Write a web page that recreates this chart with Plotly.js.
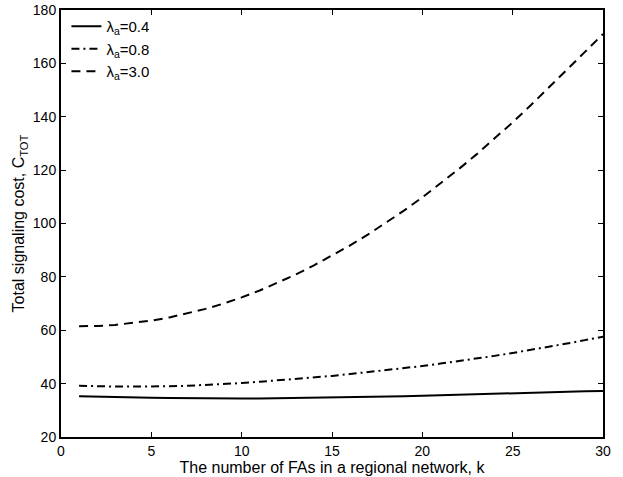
<!DOCTYPE html>
<html>
<head>
<meta charset="utf-8">
<script src="https://cdn.plot.ly/plotly-3.0.1.min.js"></script>
<style>html,body{margin:0;padding:0;background:#fff;}#chart{width:623px;height:477px;}</style>
</head>
<body>
<div id="chart"></div>
<script>
const k = [1,2,3,4,5,6,7,8,9,10,11,12,13,14,15,16,17,18,19,20,21,22,23,24,25,26,27,28,29,30];
const cost_04 = [35.3,35.1,34.9,34.8,34.7,34.6,34.5,34.5,34.4,34.4,34.4,34.5,34.5,34.6,34.7,34.8,34.9,35.1,35.3,35.5,35.7,35.9,36.1,36.3,36.5,36.7,36.8,37.0,37.1,37.2];
const cost_08 = [39.2,39.0,38.9,38.9,38.9,39.0,39.2,39.5,39.8,40.2,40.7,41.2,41.7,42.3,42.9,43.6,44.3,45.0,45.8,46.6,47.5,48.4,49.4,50.4,51.5,52.6,53.8,55.0,56.3,57.6];
const cost_30 = [61.5,61.6,62.0,62.7,63.6,64.8,66.3,68.0,70.0,72.3,74.9,77.8,80.9,84.3,87.9,91.8,95.9,100.3,104.9,109.8,114.9,120.3,125.9,131.8,137.9,144.3,150.8,157.6,164.3,171.0];
const seriesNames = ['λ<sub>a</sub>=0.4','λ<sub>a</sub>=0.8','λ<sub>a</sub>=3.0'];
const xTicks = [0,5,10,15,20,25,30];
const yTicks = [20,40,60,80,100,120,140,160,180];

const fam = 'Liberation Sans, Arial, sans-serif';
const tickFont = {family: fam, size: 14, color: '#000'};
const titleFont = {family: fam, size: 16, color: '#000'};
const legendFont = {family: fam, size: 15, color: '#000'};
const traces = [
  {x: k, y: cost_04, name: seriesNames[0], mode: 'lines', line: {color: '#000', width: 2, dash: 'solid'}},
  {x: k, y: cost_08, name: seriesNames[1], mode: 'lines', line: {color: '#000', width: 2, dash: '8px,4px,2px,4px'}},
  {x: k, y: cost_30, name: seriesNames[2], mode: 'lines', line: {color: '#000', width: 2, dash: '9px,6px'}}
];
const axisCommon = {
  showline: true, linecolor: '#000', linewidth: 2, mirror: 'ticks',
  ticks: 'inside', ticklen: 5, tickwidth: 1, tickcolor: '#000',
  showgrid: false, zeroline: false, tickfont: tickFont
};
const layout = {
  width: 623, height: 477,
  margin: {l: 61, r: 20, t: 10, b: 40},
  paper_bgcolor: '#fff', plot_bgcolor: '#fff',
  font: tickFont,
  showlegend: true,
  legend: {x: 0.01, y: 1.0, xanchor: 'left', yanchor: 'top', bgcolor: 'rgba(0,0,0,0)', borderwidth: 0, font: legendFont, itemwidth: 30, tracegroupgap: 0},
  xaxis: Object.assign({}, axisCommon, {range: [0, 30], tickvals: xTicks, ticktext: xTicks.map(String), ticklabelstandoff: 0,
    title: {text: 'The number of FAs in a regional network, k', font: titleFont, standoff: 3}}),
  yaxis: Object.assign({}, axisCommon, {range: [20, 180], tickvals: yTicks, ticktext: yTicks.map(String),
    title: {text: 'Total signaling cost, C<sub>TOT</sub>', font: titleFont, standoff: 4}})
};
Plotly.newPlot('chart', traces, layout, {displayModeBar: false, staticPlot: true});
</script>
</body>
</html>
